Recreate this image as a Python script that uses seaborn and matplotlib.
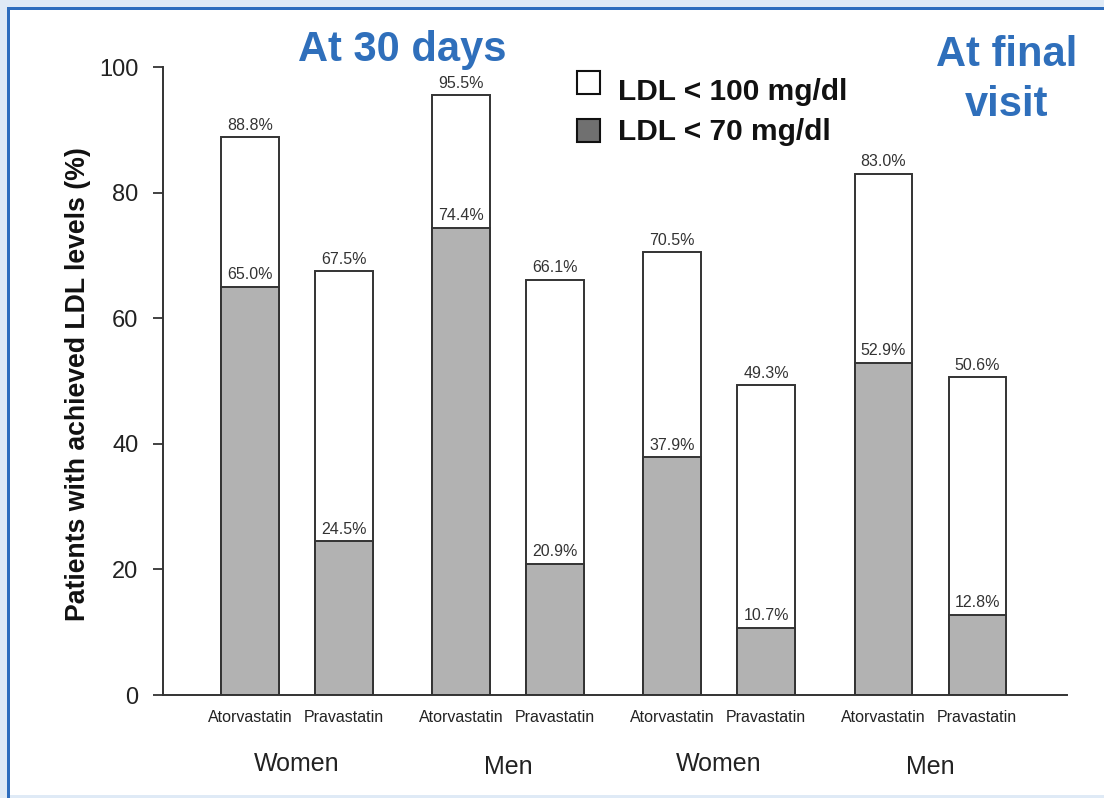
import matplotlib
matplotlib.use("Agg")
import matplotlib.pyplot as plt
from matplotlib.patches import Rectangle
from matplotlib.transforms import blended_transform_factory
import seaborn as sns
import numpy as np

# ---- data -------------------------------------------------------------
groups = ["Women", "Men", "Women", "Men"]
drugs = ["Atorvastatin", "Pravastatin"]
ldl_below_100 = [88.8, 67.5, 95.5, 66.1, 70.5, 49.3, 83.0, 50.6]
ldl_below_70 = [65.0, 24.5, 74.4, 20.9, 37.9, 10.7, 52.9, 12.8]
period_titles = ["At 30 days", "At final\nvisit"]
legend_labels = ["LDL < 100 mg/dl", "LDL < 70 mg/dl"]
y_ticks = [0, 20, 40, 60, 80, 100]
y_label = "Patients with achieved LDL levels (%)"

# ---- style ------------------------------------------------------------
sns.set_style("ticks")
plt.rcParams["font.family"] = ["Liberation Sans", "DejaVu Sans"]

W, H = 1104, 798
fig = plt.figure(figsize=(W / 100, H / 100), dpi=100)
fig.patch.set_facecolor("#dfeaf6")

def fx(px):
    return px / W

def fy(py):
    return 1 - py / H

# white slide panel with blue frame on top and left
fig.add_artist(Rectangle((fx(10), fy(795)), 1, fy(10) - fy(795),
                         transform=fig.transFigure, facecolor="white",
                         edgecolor="none", zorder=-10))
fig.add_artist(Rectangle((fx(7), fy(10)), 1, fy(7) - fy(10),
                         transform=fig.transFigure, facecolor="#2e6dbd",
                         edgecolor="none", zorder=-9))
fig.add_artist(Rectangle((fx(7), 0), fx(3), fy(7),
                         transform=fig.transFigure, facecolor="#2e6dbd",
                         edgecolor="none", zorder=-9))

ax = fig.add_axes([fx(163), fy(695), fx(1067 - 163), fy(67) - fy(695)])
ax.set_facecolor("none")

# bar positions: two drugs per group, wider gap between groups
group_step = 2.245
positions = np.array([g * group_step + j for g in range(len(groups))
                      for j in range(len(drugs))])
tick_names = [d for _ in groups for d in drugs]

edge = "#333333"
sns.barplot(x=positions, y=ldl_below_100, native_scale=True, width=0.61,
            color="white", saturation=1, edgecolor=edge, linewidth=1.4,
            errorbar=None, ax=ax)
sns.barplot(x=positions, y=ldl_below_70, native_scale=True, width=0.61,
            color="#b2b2b2", saturation=1, edgecolor=edge, linewidth=1.4,
            errorbar=None, ax=ax)

for x, top, low in zip(positions, ldl_below_100, ldl_below_70):
    ax.text(x, top + 0.7, f"{top:.1f}%", ha="center", va="bottom",
            fontsize=11.5, color="#333333")
    ax.text(x, low + 0.7, f"{low:.1f}%", ha="center", va="bottom",
            fontsize=11.5, color="#333333")

ax.set_ylim(0, 100)
ax.set_xlim(-0.926, 8.69)
ax.set_yticks(y_ticks)
ax.set_yticklabels([str(t) for t in y_ticks])
ax.set_xticks(positions)
ax.set_xticklabels(tick_names)
ax.tick_params(axis="y", length=7.2, width=1.3, color=edge, pad=10.5,
               labelsize=17, labelcolor="#222222")
ax.tick_params(axis="x", length=0, pad=11, labelsize=11.5,
               labelcolor="#222222")
for side in ["top", "right"]:
    ax.spines[side].set_visible(False)
for side in ["left", "bottom"]:
    ax.spines[side].set_color(edge)
    ax.spines[side].set_linewidth(1.4)

ax.set_xlabel("")
ax.set_ylabel(y_label, fontsize=19.2, fontweight="bold", color="#111111")
ax.yaxis.label.set_va("center")
ax.yaxis.set_label_coords((78 - 163) / (1067 - 163), 0.495)

# group names under each pair of bars
trans = blended_transform_factory(ax.transData, fig.transFigure)
for g, name in enumerate(groups):
    cx = g * group_step + 0.5
    yc = 764 if name == "Women" else 767
    ax.text(cx, fy(yc), name, transform=trans, ha="center", va="center",
            fontsize=18, color="#222222")

# period headings
blue = "#2f6fbb"
fig.text(fx(402), fy(50), period_titles[0], ha="center", va="center",
         fontsize=30, fontweight="bold", color=blue)
for k, line in enumerate(period_titles[1].split("\n")):
    fig.text(fx(1007), fy(55 + 50 * k), line, ha="center", va="center",
             fontsize=30, fontweight="bold", color=blue)

# legend
swatches = ["white", "#707070"]
for k, (lab, col) in enumerate(zip(legend_labels, swatches)):
    yc = 82 + 48 * k
    fig.add_artist(Rectangle((fx(577), fy(yc + 12)), fx(23), fy(0) - fy(23),
                             transform=fig.transFigure, facecolor=col,
                             edgecolor="#111111", linewidth=1.5))
    fig.text(fx(618), fy(92 + 40 * k), lab, ha="left", va="center",
             fontsize=21.5, fontweight="bold", color="#111111")

fig.savefig("out.png", dpi=100)
